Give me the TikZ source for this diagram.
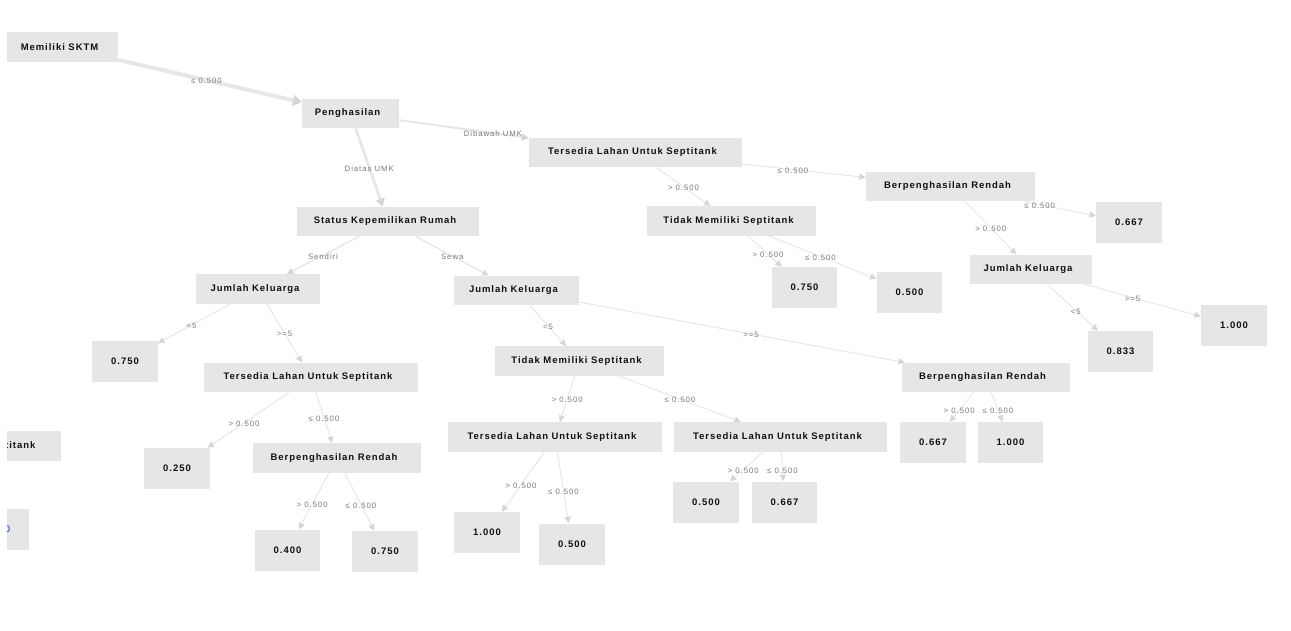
\documentclass[tikz,border=0pt]{standalone}
\usepackage{fontspec}
\setmainfont{Liberation Sans}
\newfontfamily\boxfont[LetterSpace=10]{Liberation Sans}
\newfontfamily\lblfont[LetterSpace=12]{Liberation Sans}
\usetikzlibrary{arrows.meta,calc}
\definecolor{boxgray}{HTML}{E6E6E6}
\definecolor{edgegray}{HTML}{E7E7E7}
\definecolor{arrowgray}{HTML}{D6D6D6}
\definecolor{lblgray}{HTML}{7A7A7A}
\definecolor{txtdark}{HTML}{111111}
\definecolor{fringe}{HTML}{3A72C8}
\tikzset{
  box/.style={fill=boxgray, inner sep=0pt, text=txtdark,
    font=\boxfont\bfseries\fontsize{9.5}{11}\selectfont},
  dec/.style={box, minimum height=29.5pt, execute at end node={\kern6pt}},
  val/.style={box, minimum width=65.5pt, minimum height=41pt},
  edge/.style={draw=edgegray, line width=1pt,
    -{Triangle[length=6.5pt,width=6pt,color=arrowgray]}},
  edgeB/.style={edge, line width=1.4pt},
  edgeC/.style={edge, line width=2pt,
    -{Triangle[length=7pt,width=7pt,color=arrowgray]}},
  edgeD/.style={edge, line width=2.8pt,
    -{Triangle[length=8pt,width=9pt,color=arrowgray]}},
  edgeE/.style={edge, line width=4pt,
    -{Triangle[length=9pt,width=11pt,color=arrowgray]}},
  lbl/.style={font=\lblfont\fontsize{7.8}{9}\selectfont, text=lblgray,
    inner sep=0pt, yshift=-1pt}
}
\begin{document}
\begin{tikzpicture}[x=1pt,y=-1pt]
\useasboundingbox (0,0) rectangle (1291,630);
\fill[white] (0,0) rectangle (1291,630);

% partial nodes clipped at the left edge
\begin{scope}
\clip (7,0) rectangle (1291,630);
\node[dec, minimum width=214pt] (pt1) at (-46,446) {Tersedia Lahan Untuk Septitank};
\node[val, text=fringe] (pt2) at (-3.5,529) {0.750};
\end{scope}

% decision nodes
\node[dec, minimum width=111pt] (sktm) at (62.5,47) {Memiliki SKTM};
\node[dec, minimum width=97pt]  (peng) at (350.5,113.5) {Penghasilan};
\node[dec, minimum width=213pt] (tlsA) at (635.5,152.5) {Tersedia Lahan Untuk Septitank};
\node[dec, minimum width=182pt] (skr)  at (388,221.5) {Status Kepemilikan Rumah};
\node[dec, minimum width=169pt] (tmsA) at (731.5,221) {Tidak Memiliki Septitank};
\node[dec, minimum width=169pt] (brA)  at (950.5,186.5) {Berpenghasilan Rendah};
\node[dec, minimum width=122pt] (jkC)  at (1031,269.5) {Jumlah Keluarga};
\node[dec, minimum width=124pt] (jkA)  at (258,289) {Jumlah Keluarga};
\node[dec, minimum width=214pt] (tlsB) at (311,377.5) {Tersedia Lahan Untuk Septitank};
\node[dec, minimum width=168pt] (brB)  at (337,458) {Berpenghasilan Rendah};
\node[dec, minimum width=125pt] (jkB)  at (516.5,290.5) {Jumlah Keluarga};
\node[dec, minimum width=169pt] (tmsB) at (579.5,361) {Tidak Memiliki Septitank};
\node[dec, minimum width=168pt] (brC)  at (985.5,377.5) {Berpenghasilan Rendah};
\node[dec, minimum width=214pt] (tlsC) at (555,437) {Tersedia Lahan Untuk Septitank};
\node[dec, minimum width=213pt] (tlsD) at (780.5,437) {Tersedia Lahan Untuk Septitank};

% leaf nodes
\node[val] (vA750)  at (804.5,287.5) {0.750};
\node[val] (vA500)  at (909.5,292) {0.500};
\node[val] (vA667)  at (1129,222.5) {0.667};
\node[val] (v833)   at (1120.5,351.5) {0.833};
\node[val] (vA1000) at (1234,325.5) {1.000};
\node[val] (vB750)  at (125,361) {0.750};
\node[val] (v250)   at (177,468.5) {0.250};
\node[val] (v400)   at (287.5,550) {0.400};
\node[val] (vC750)  at (385,551.5) {0.750};
\node[val] (vB1000) at (487,532.5) {1.000};
\node[val] (vB500)  at (572,544) {0.500};
\node[val] (vC500)  at (706,502) {0.500};
\node[val] (vB667)  at (784.5,502) {0.667};
\node[val] (vC667)  at (933,442.5) {0.667};
\node[val] (vC1000) at (1010.5,442.5) {1.000};

% edges
\draw[edgeE] (sktm) -- (peng);
\draw[edgeC] (peng) -- (tlsA);
\draw[edgeD] (peng) -- (skr);
\draw[edge]  (tlsA) -- (tmsA);
\draw[edge]  (tlsA) -- (brA);
\draw[edgeB] (skr) -- (jkA);
\draw[edgeB] (skr) -- (jkB);
\draw[edge]  (tmsA) -- (vA750);
\draw[edge]  (tmsA) -- (vA500);
\draw[edge]  (brA) -- (vA667);
\draw[edge]  (brA) -- (jkC);
\draw[edge]  (jkC) -- (v833);
\draw[edge]  (jkC) -- (vA1000);
\draw[edge]  (jkA) -- (vB750);
\draw[edge]  (jkA) -- (tlsB);
\draw[edge]  (tlsB) -- (v250);
\draw[edge]  (tlsB) -- (brB);
\draw[edge]  (brB) -- (v400);
\draw[edge]  (brB) -- (vC750);
\draw[edge]  (jkB) -- (tmsB);
\draw[edge]  (jkB) -- (brC);
\draw[edge]  (tmsB) -- (tlsC);
\draw[edge]  (tmsB) -- (tlsD);
\draw[edge]  (tlsC) -- (vB1000);
\draw[edge]  (tlsC) -- (vB500);
\draw[edge]  (tlsD) -- (vC500);
\draw[edge]  (tlsD) -- (vB667);
\draw[edge]  (brC) -- (vC667);
\draw[edge]  (brC) -- (vC1000);

% edge labels
\node[lbl] (l01) at ($(sktm.center)!0.5!(peng.center)$) {≤ 0.500};
\node[lbl] (l02) at ($(peng.center)!0.5!(tlsA.center)$) {Dibawah UMK};
\node[lbl] (l03) at ($(peng.center)!0.5!(skr.center)$) {Diatas UMK};
\node[lbl] (l04) at ($(tlsA.center)!0.5!(tmsA.center)$) {> 0.500};
\node[lbl] (l05) at ($(tlsA.center)!0.5!(brA.center)$) {≤ 0.500};
\node[lbl] (l06) at ($(skr.center)!0.5!(jkA.center)$) {Sendiri};
\node[lbl] (l07) at ($(skr.center)!0.5!(jkB.center)$) {Sewa};
\node[lbl] (l08) at ($(tmsA.center)!0.5!(vA750.center)$) {> 0.500};
\node[lbl] (l09) at ($(tmsA.center)!0.5!(vA500.center)$) {≤ 0.500};
\node[lbl] (l10) at ($(brA.center)!0.5!(vA667.center)$) {≤ 0.500};
\node[lbl] (l11) at ($(brA.center)!0.5!(jkC.center)$) {> 0.500};
\node[lbl] (l12) at ($(jkC.center)!0.5!(v833.center)$) {<5};
\node[lbl] (l13) at ($(jkC.center)!0.5!(vA1000.center)$) {>=5};
\node[lbl] (l14) at ($(jkA.center)!0.5!(vB750.center)$) {<5};
\node[lbl] (l15) at ($(jkA.center)!0.5!(tlsB.center)$) {>=5};
\node[lbl] (l16) at ($(tlsB.center)!0.5!(v250.center)$) {> 0.500};
\node[lbl] (l17) at ($(tlsB.center)!0.5!(brB.center)$) {≤ 0.500};
\node[lbl] (l18) at ($(brB.center)!0.5!(v400.center)$) {> 0.500};
\node[lbl] (l19) at ($(brB.center)!0.5!(vC750.center)$) {≤ 0.500};
\node[lbl] (l20) at ($(jkB.center)!0.5!(tmsB.center)$) {<5};
\node[lbl] (l21) at ($(jkB.center)!0.5!(brC.center)$) {>=5};
\node[lbl] (l22) at ($(tmsB.center)!0.5!(tlsC.center)$) {> 0.500};
\node[lbl] (l23) at ($(tmsB.center)!0.5!(tlsD.center)$) {≤ 0.500};
\node[lbl] (l24) at ($(tlsC.center)!0.5!(vB1000.center)$) {> 0.500};
\node[lbl] (l25) at ($(tlsC.center)!0.5!(vB500.center)$) {≤ 0.500};
\node[lbl] (l26) at ($(tlsD.center)!0.5!(vC500.center)$) {> 0.500};
\node[lbl] (l27) at ($(tlsD.center)!0.5!(vB667.center)$) {≤ 0.500};
\node[lbl] (l28) at ($(brC.center)!0.5!(vC667.center)$) {> 0.500};
\node[lbl] (l29) at ($(brC.center)!0.5!(vC1000.center)$) {≤ 0.500};
\end{tikzpicture}
\end{document}
